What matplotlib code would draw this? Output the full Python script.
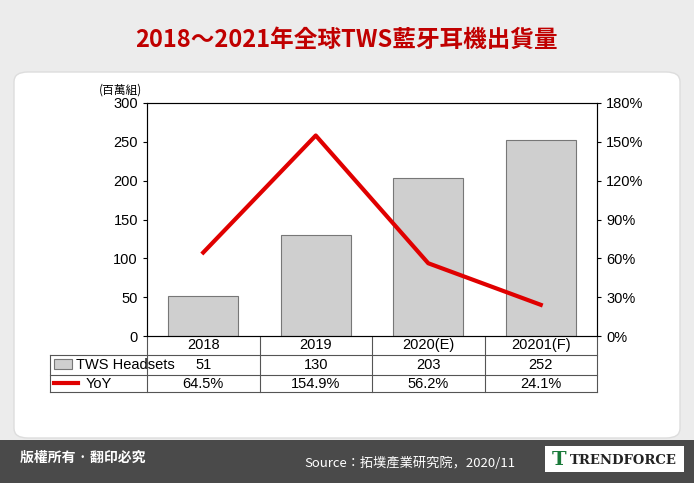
import matplotlib
matplotlib.use("Agg")
import matplotlib.pyplot as plt
from matplotlib.patches import FancyBboxPatch, Rectangle
from matplotlib.lines import Line2D

plt.rcParams["font.family"] = ["Liberation Sans", "DejaVu Sans"]

categories = ["2018", "2019", "2020(E)", "20201(F)"]
headsets = [51, 130, 203, 252]
yoy = [64.5, 154.9, 56.2, 24.1]
headset_labels = ["51", "130", "203", "252"]
yoy_labels = ["64.5%", "154.9%", "56.2%", "24.1%"]

CJK = ["Noto Sans CJK JP", "Noto Sans CJK TC", "Noto Sans CJK SC", "DejaVu Sans"]

W, H = 694, 483
fig = plt.figure(figsize=(W/100, H/100), dpi=100)
fig.patch.set_facecolor("#ececec")

def fx(x): return x / W
def fy(y): return 1 - y / H

fig.patches.append(FancyBboxPatch((fx(14), fy(438)), fx(666), fy(72) - fy(438),
    boxstyle="round,pad=0,rounding_size=0.02", transform=fig.transFigure,
    facecolor="white", edgecolor="#dddddd", zorder=-5))
fig.patches.append(Rectangle((0, 0), 1, fy(440), transform=fig.transFigure,
    facecolor="#4a4a4a", zorder=-5))
fig.text(fx(20), fy(458), "版權所有 · 翻印必究", color="white", fontsize=10,
         fontweight="bold", family=CJK, va="center")
fig.text(fx(410), fy(463), "Source：拓墣產業研究院，2020/11", color="white", fontsize=9.5,
         family=CJK, va="center", ha="center")
fig.patches.append(Rectangle((fx(545), fy(472)), fx(684)-fx(545), fy(446)-fy(472),
    transform=fig.transFigure, facecolor="white", zorder=-4))
fig.text(fx(552), fy(460), "T", color="#1a7a3a", fontsize=14, fontweight="bold",
         va="center", family="DejaVu Serif")
fig.text(fx(570), fy(460), "TRENDFORCE", color="#222222", fontsize=9.5,
         family="DejaVu Serif", fontweight="bold", va="center")

fig.text(0.5, fy(40), "2018～2021年全球TWS藍牙耳機出貨量", color="#c00000",
         fontsize=17, fontweight="bold", family=CJK, ha="center", va="center")

L, R, T, B = 147, 597, 103, 336
ax = fig.add_axes([fx(L), fy(B), fx(R) - fx(L), fy(T) - fy(B)])
ax.set_zorder(5)
x = list(range(len(categories)))
ax.bar(x, headsets, width=0.62, color="#cfcfcf", edgecolor="#777777", linewidth=0.8, zorder=2)
ax.set_xlim(-0.5, 3.5)
ax.set_ylim(0, 300)
ax.set_yticks(range(0, 301, 50))
ax.set_xticks([])
ax.tick_params(labelsize=10.5, length=3)
for s in ax.spines.values():
    s.set_color("#555555")
ax.text(-0.06, 1.04, "(百萬組)", transform=ax.transAxes, fontsize=8.5,
        family=CJK, ha="center")
ax2 = ax.twinx()
ax2.set_zorder(6)
ax2.plot(x, yoy, color="#e00000", linewidth=3, zorder=3)
ax2.set_ylim(0, 180)
ax2.set_yticks(range(0, 181, 30))
ax2.set_yticklabels([f"{v}%" for v in range(0, 181, 30)])
ax2.tick_params(labelsize=10.5, length=3)
ax2.patch.set_visible(False)
ax.set_facecolor("white")

colw = (R - L) / 4
lc = "#555555"
def hline(y, x0, x1):
    fig.add_artist(Line2D([fx(x0), fx(x1)], [fy(y), fy(y)], color=lc, lw=0.8))
def vline(xp, y0, y1):
    fig.add_artist(Line2D([fx(xp), fx(xp)], [fy(y0), fy(y1)], color=lc, lw=0.8))
hline(355, 50, R); hline(375, 50, R); hline(392, 50, R)
vline(50, 355, 392)
for i in range(5):
    vline(L + i * colw, 336, 392)
for i, c in enumerate(categories):
    cx = L + (i + 0.5) * colw
    fig.text(fx(cx), fy(345), c, ha="center", va="center", fontsize=10.5)
    fig.text(fx(cx), fy(365), headset_labels[i], ha="center", va="center", fontsize=10.5)
    fig.text(fx(cx), fy(384), yoy_labels[i], ha="center", va="center", fontsize=10.5)
fig.patches.append(Rectangle((fx(54), fy(369)), fx(18), fy(359) - fy(369),
    transform=fig.transFigure, facecolor="#cfcfcf", edgecolor="#777777", lw=0.8))
fig.text(fx(76), fy(365), "TWS Headsets", va="center", fontsize=10.5)
fig.add_artist(Line2D([fx(54), fx(78)], [fy(383), fy(383)], color="#e00000", lw=3))
fig.text(fx(86), fy(384), "YoY", va="center", fontsize=10.5)

fig.savefig("out.png", dpi=100, facecolor=fig.get_facecolor())
